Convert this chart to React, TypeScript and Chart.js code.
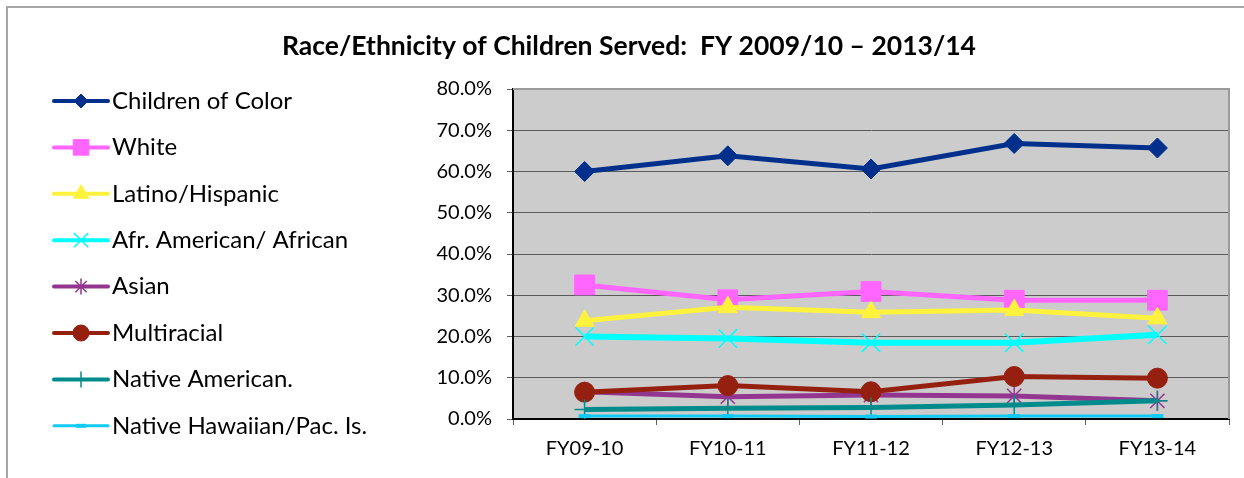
import React, { useEffect, useRef } from "react";
import { Chart, registerables } from "chart.js";
import { drawPoint } from "chart.js/helpers";

Chart.register(...registerables);

const TITLE = "Race/Ethnicity of Children Served:  FY 2009/10 \u2013 2013/14";
const CATEGORIES = ["FY09-10", "FY10-11", "FY11-12", "FY12-13", "FY13-14"];
const Y_TICKS = [0, 10, 20, 30, 40, 50, 60, 70, 80];

const SERIES_NAMES = [
  "Children of Color",
  "White",
  "Latino/Hispanic",
  "Afr. American/ African",
  "Asian",
  "Multiracial",
  "Native American.",
  "Native Hawaiian/Pac. Is.",
];

const childrenOfColor = [60.0, 63.8, 60.6, 66.8, 65.7];
const white = [32.5, 28.9, 30.9, 28.8, 28.8];
const latino = [23.8, 27.1, 25.9, 26.4, 24.4];
const afrAmerican = [20.0, 19.5, 18.5, 18.5, 20.4];
const asian = [6.6, 5.4, 5.8, 5.6, 4.4];
const multiracial = [6.5, 8.1, 6.6, 10.3, 9.9];
const nativeAmerican = [2.3, 2.6, 2.8, 3.4, 4.4];
const nativeHawaiian = [0.7, 0.7, 0.6, 0.7, 0.7];

const SERIES_VALUES = [
  childrenOfColor,
  white,
  latino,
  afrAmerican,
  asian,
  multiracial,
  nativeAmerican,
  nativeHawaiian,
];

const COLORS = ["#00308C", "#FF66FF", "#FFF23C", "#00FFFF", "#93368F", "#96200F", "#008C8C", "#10CCF5"];
const POINT_STYLES = ["rectRot", "rect", "triangle", "crossRot", "star", "circle", "cross", "line"];
const POINT_RADII = [10, 14, 11, 13, 10, 10, 10, 6];
const POINT_BORDERS = [1, 1, 1, 1.5, 1.5, 1, 1.5, 4];
const LINE_WIDTHS = [5, 5, 5, 6, 5, 5, 5, 3];
const LEGEND_RADII = [7, 11, 9, 10, 8, 8, 8, 5];

const FONT = "Lato, 'Open Sans', sans-serif";

const decorPlugin = {
  id: "decor",
  beforeDraw(chart: any) {
    const { ctx, chartArea } = chart;
    ctx.save();
    ctx.fillStyle = "#ffffff";
    ctx.fillRect(0, 0, chart.width, chart.height);
    ctx.fillStyle = "#CCCCCC";
    ctx.fillRect(chartArea.left, chartArea.top, chartArea.right - chartArea.left, chartArea.bottom - chartArea.top);
    ctx.restore();
  },
  beforeDatasetsDraw(chart: any) {
    const { ctx, chartArea } = chart;
    ctx.save();
    ctx.strokeStyle = "#9A9A9A";
    ctx.lineWidth = 2;
    ctx.beginPath();
    ctx.moveTo(chartArea.left, chartArea.top);
    ctx.lineTo(chartArea.right, chartArea.top);
    ctx.lineTo(chartArea.right, chartArea.bottom);
    ctx.stroke();
    ctx.restore();
  },
  afterDraw(chart: any) {
    const { ctx } = chart;
    ctx.save();
    // outer frame
    ctx.strokeStyle = "#A6A6A6";
    ctx.lineWidth = 2;
    ctx.beginPath();
    ctx.moveTo(7, chart.height);
    ctx.lineTo(7, 7);
    ctx.lineTo(chart.width, 7);
    ctx.stroke();
    // title
    ctx.fillStyle = "#000000";
    ctx.font = `bold 26.5px ${FONT}`;
    ctx.textAlign = "center";
    ctx.textBaseline = "middle";
    ctx.fillText(TITLE, 629, 46);
    // legend
    const ds = chart.data.datasets;
    ds.forEach((d: any, i: number) => {
      const y = 101 + i * 46.4;
      ctx.strokeStyle = d.borderColor;
      ctx.lineWidth = Math.min(d.borderWidth, 4);
      ctx.lineCap = "round";
      ctx.beginPath();
      ctx.moveTo(54, y);
      ctx.lineTo(108, y);
      ctx.stroke();
      ctx.lineCap = "butt";
      ctx.fillStyle = d.pointBackgroundColor;
      ctx.strokeStyle = d.pointBorderColor;
      ctx.lineWidth = d.pointBorderWidth;
      drawPoint(ctx, { pointStyle: d.pointStyle, radius: LEGEND_RADII[i], rotation: 0, borderWidth: d.pointBorderWidth }, 81, y);
      ctx.fillStyle = "#000000";
      ctx.font = `24px ${FONT}`;
      ctx.textAlign = "left";
      ctx.textBaseline = "middle";
      ctx.fillText(d.label, 112, y);
    });
    ctx.restore();
  },
};

export default function App() {
  const canvasRef = useRef<HTMLCanvasElement | null>(null);

  useEffect(() => {
    if (!canvasRef.current) return;
    const datasets = SERIES_NAMES.map((name, i) => ({
      label: name,
      data: SERIES_VALUES[i],
      borderColor: COLORS[i],
      backgroundColor: COLORS[i],
      borderWidth: LINE_WIDTHS[i],
      pointStyle: POINT_STYLES[i],
      pointRadius: POINT_RADII[i],
      pointHoverRadius: POINT_RADII[i],
      pointBackgroundColor: COLORS[i],
      pointBorderColor: COLORS[i],
      pointBorderWidth: POINT_BORDERS[i],
      tension: 0,
      fill: false,
      order: SERIES_NAMES.length - i,
    }));

    const chart = new Chart(canvasRef.current, {
      type: "line",
      data: { labels: CATEGORIES, datasets },
      plugins: [decorPlugin],
      options: {
        animation: false,
        responsive: false,
        maintainAspectRatio: false,
        devicePixelRatio: 1,
        layout: { padding: { left: 420, right: 10, top: 89, bottom: 0 } },
        plugins: {
          legend: { display: false },
          title: { display: false },
          tooltip: { enabled: false },
        },
        scales: {
          x: {
            offset: true,
            afterFit: (scale: any) => {
              scale.height = 59;
            },
            grid: {
              offset: true,
              drawOnChartArea: false,
              drawTicks: true,
              tickLength: 6,
              tickColor: "#606060",
            },
            border: { display: true, color: "#000000", width: 2 },
            ticks: {
              color: "#000000",
              font: { family: FONT, size: 20 },
              padding: 12,
              maxRotation: 0,
            },
          },
          y: {
            min: 0,
            max: 80,
            afterFit: (scale: any) => {
              scale.width = 93;
            },
            afterBuildTicks: (scale: any) => {
              scale.ticks = Y_TICKS.map((v) => ({ value: v }));
            },
            grid: {
              color: "#5A5A5A",
              lineWidth: 1,
              drawTicks: true,
              tickLength: 6,
              tickColor: "#606060",
            },
            border: { display: true, color: "#000000", width: 2 },
            ticks: {
              color: "#000000",
              font: { family: FONT, size: 20 },
              padding: 15,
              callback: (v: any) => Number(v).toFixed(1) + "%",
            },
          },
        },
      },
    });
    return () => chart.destroy();
  }, []);

  return (
    <div style={{ position: "absolute", left: 0, top: 0, width: 1244, height: 478 }}>
      <canvas ref={canvasRef} width={1244} height={478} style={{ width: 1244, height: 478, display: "block" }} />
    </div>
  );
}
